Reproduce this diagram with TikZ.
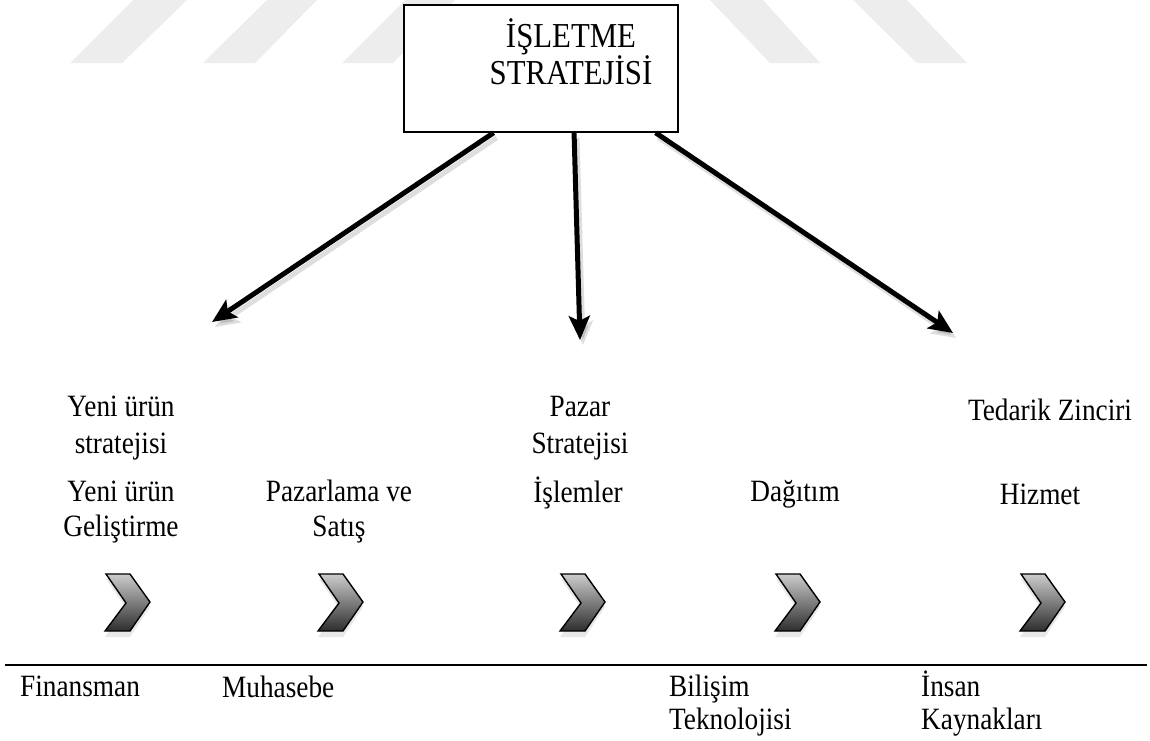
\documentclass[tikz,border=0pt]{standalone}
\usepackage{fontspec}
\setmainfont[FakeStretch=0.88]{Liberation Serif}
\usetikzlibrary{arrows.meta,calc,shadings}
\begin{document}
\begin{tikzpicture}[x=1pt,y=-1pt,
  lbl/.style={font=\fontsize{31}{37}\selectfont,align=center,inner sep=0pt},
  lblL/.style={font=\fontsize{31}{33}\selectfont,align=left,inner sep=0pt,anchor=north west},
  bigarrow/.style={line width=5pt,-{Stealth[length=24pt,width=21pt,inset=5pt]}},
  shadowarrow/.style={line width=5pt,draw=black!25,-{Stealth[length=24pt,width=21pt,inset=5pt]}},
  wm/.style={fill=black!7,draw=none},
  chevfill/.style={top color=black!20,bottom color=black!82,draw=black,line width=1.4pt,line join=miter}
]
\useasboundingbox (0,0) rectangle (1150,740);
\fill[white] (0,0) rectangle (1150,740);
% watermark stripes
\fill[wm] (70,63) -- (122,63) -- (187,0) -- (133,0) -- cycle;
\fill[wm] (203,63) -- (255,63) -- (317,0) -- (267,0) -- cycle;
\fill[wm] (342,63) -- (393,63) -- (455,0) -- (405,0) -- cycle;
\fill[wm] (770,63) -- (820,63) -- (763,0) -- (710,0) -- cycle;
\fill[wm] (917,63) -- (967,63) -- (907,0) -- (853,0) -- cycle;
% top box
\node[draw,line width=1.5pt,fill=white,minimum width=274pt,minimum height=127pt,inner sep=0pt] (top) at (541,68.5) {};
\node[lbl,font=\fontsize{35}{36}\selectfont] (toplbl) at (571,52) {İŞLETME\\STRATEJİSİ};
% arrow ends
\coordinate (s1) at ($(top.south west)!0.328!(top.south east)$);
\coordinate (s2) at ($(top.south west)!0.620!(top.south east)$);
\coordinate (s3) at ($(top.south west)!0.916!(top.south east)$);
\coordinate (t1) at (212,322);
\coordinate (t2) at (580,340);
\coordinate (t3) at (953,333);
\coordinate (u1) at (215,327);
\coordinate (u2) at (583,345);
\coordinate (u3) at (956,338);
\draw[shadowarrow,draw opacity=0.5] ($(s1)+(3,5)$) -- (u1);
\draw[shadowarrow,draw opacity=0.5] ($(s2)+(3,5)$) -- (u2);
\draw[shadowarrow,draw opacity=0.5] ($(s3)+(3,5)$) -- (u3);
\draw[bigarrow] (s1) -- (t1);
\draw[bigarrow] (s2) -- (t2);
\draw[bigarrow] (s3) -- (t3);
% strategy labels
\node[lbl] (ls1) at (121,428) {Yeni ürün\\stratejisi};
\node[lbl] (ls2) at (580,428) {Pazar\\Stratejisi};
\node[lbl] (ls3) at (1050,410) {Tedarik Zinciri};
% activity labels
\node[lbl,font=\fontsize{31}{35}\selectfont] (a1) at (121,512) {Yeni ürün\\Geliştirme};
\node[lbl,font=\fontsize{31}{35}\selectfont] (a2) at (339,512) {Pazarlama ve\\Satış};
\node[lbl] (a3) at (578,493) {İşlemler};
\node[lbl] (a4) at (795,494) {Dağıtım};
\node[lbl] (a5) at (1040,494) {Hizmet};
% chevrons
\foreach \cx/\nm in {127/c1,340/c2,582/c3,797/c4,1042/c5}{
  \fill[black!15,opacity=0.6] ($(\cx,605)+(-21,-26)$) -- ++(24,0) -- ++(20,28) -- ++(-20,30) -- ++(-25,0) -- ++(21,-29) -- cycle;
  \shade[chevfill] ($(\cx,602)+(-21,-28)$) -- ++(24,0) -- ++(20,28) -- ++(-20,29) -- ++(-25,0) -- ++(21,-28) -- cycle;
  \coordinate (\nm) at (\cx,602);
}
% separator line
\coordinate (la) at (5,665);
\coordinate (lb) at (1147,665);
\draw[line width=2pt] (la) -- (lb);
% support labels
\node[lblL] (b1) at (20,676) {Finansman};
\node[lblL] (b2) at (222,675.5) {Muhasebe};
\node[lblL] (b3) at (669,675) {Bilişim\\Teknolojisi};
\node[lblL] (b4) at (921,671) {İnsan\\Kaynakları};
\end{tikzpicture}
\end{document}
